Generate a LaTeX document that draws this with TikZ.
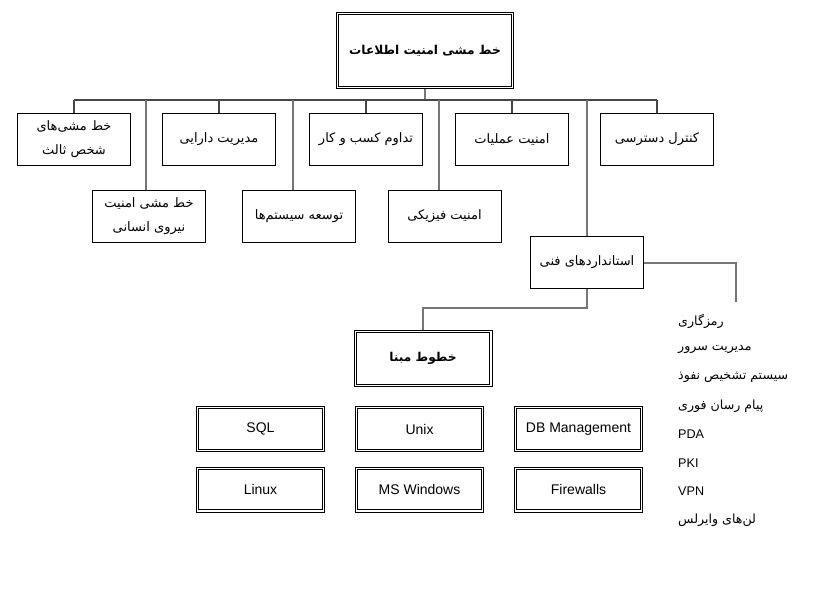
\documentclass[tikz,border=0pt]{standalone}
\usepackage{fontspec}
\usepackage{tikz}
\setmainfont{Liberation Sans}
\newfontfamily\fafont[Script=Arabic]{DejaVu Sans}
\TeXXeTstate=1
\definecolor{wire}{RGB}{70,70,70}
\definecolor{longwire}{RGB}{118,118,118}
\newcommand{\fa}[1]{{\fafont\beginR #1\endR}}
\newcommand{\drawwire}{\draw[wire, line width=1.2pt]}
\newcommand{\drawlong}{\draw[longwire, line width=2pt]}
\tikzset{
  box/.style={draw, line width=1pt, minimum width=113pt, minimum height=52pt,
    inner sep=2pt, align=center, font=\fafont\fontsize{13}{24}\selectfont},
  dbox/.style={draw, line width=0.8pt, inner sep=2pt,
    path picture={\draw[line width=0.8pt]
      ([shift={(2.4pt,-2.4pt)}]path picture bounding box.north west) rectangle
      ([shift={(-2.4pt,2.4pt)}]path picture bounding box.south east);}},
  gridbox/.style={dbox, minimum width=128.2pt, minimum height=45.2pt,
    font=\fontsize{14}{16}\selectfont},
}
\begin{document}
\begin{tikzpicture}[x=1pt,y=-1pt]
\useasboundingbox (0,0) rectangle (830,603);
\node[dbox, minimum width=177.2pt, minimum height=76.2pt,
  font=\fafont\bfseries\fontsize{12.2}{16}\selectfont] (policy) at (425,50.5)
  {\beginR خط مشی امنیت اطلاعات\endR};
\node[box] (third) at (74,139.5) {\beginR خط مشی‌های\endR\\\beginR شخص ثالث\endR};
\node[box] (asset) at (219,139.5) {\beginR مدیریت دارایی\endR};
\node[box] (bcp) at (366,139.5) {\beginR تداوم کسب و کار\endR};
\node[box] (ops) at (512,139.5) {\beginR امنیت عملیات\endR};
\node[box] (access) at (657,139.5) {\beginR کنترل دسترسی\endR};
\node[box] (hr) at (149,216.5) {\beginR خط مشی امنیت\endR\\\beginR نیروی انسانی\endR};
\node[box] (dev) at (299,216.5) {\beginR توسعه سیستم‌ها\endR};
\node[box] (phys) at (444.5,216.5) {\beginR امنیت فیزیکی\endR};
\node[box] (tech) at (587,262.5) {\beginR استانداردهای فنی\endR};
\node[dbox, minimum width=138.2pt, minimum height=56.2pt,
  font=\fafont\bfseries\fontsize{12.2}{16}\selectfont] (base) at (423,358.5)
  {\beginR خطوط مبنا\endR};
\foreach \nm/\txt/\cx/\cy in {sql/SQL/260.5/429, unix/Unix/419.5/429,
    dbm/DB Management/578.5/429, linux/Linux/260.5/489.5,
    win/MS Windows/419.5/489.5, fw/Firewalls/578.5/489.5}
  \node[gridbox] (\nm) at (\cx,\cy) {\txt};
\foreach \k/\txt in {0/\fa{رمزگاری}, 1/\fa{مدیریت سرور}, 2/\fa{سیستم تشخیص نفوذ},
    3/\fa{پیام رسان فوری}, 4/PDA, 5/PKI, 6/VPN, 7/\fa{لن‌های وایرلس}}
  \node[anchor=west, inner sep=0pt, font=\fontsize{12.6}{14}\selectfont]
    (std\k) at (678,{321+28.4*\k}) {\txt};
\coordinate (bus) at (425,100);
\coordinate (stdtop) at (736,302);
\drawlong (policy.south) -- (bus);
\drawwire (third.north |- bus) -- (access.north |- bus);
\foreach \b in {third,asset,bcp,ops,access}
  \drawwire (\b.north) -- (\b.north |- bus);
\foreach \b/\s in {hr/-3,dev/-6,phys/-5.5}
  \drawlong ([xshift=\s pt]\b.north) -- ([xshift=\s pt]\b.north |- bus);
\drawlong (tech.north) -- (tech.north |- bus);
\drawlong (tech.east) -| (stdtop);
\drawlong (tech.south) -- ++(0,19) -| (base.north);
\end{tikzpicture}
\end{document}
